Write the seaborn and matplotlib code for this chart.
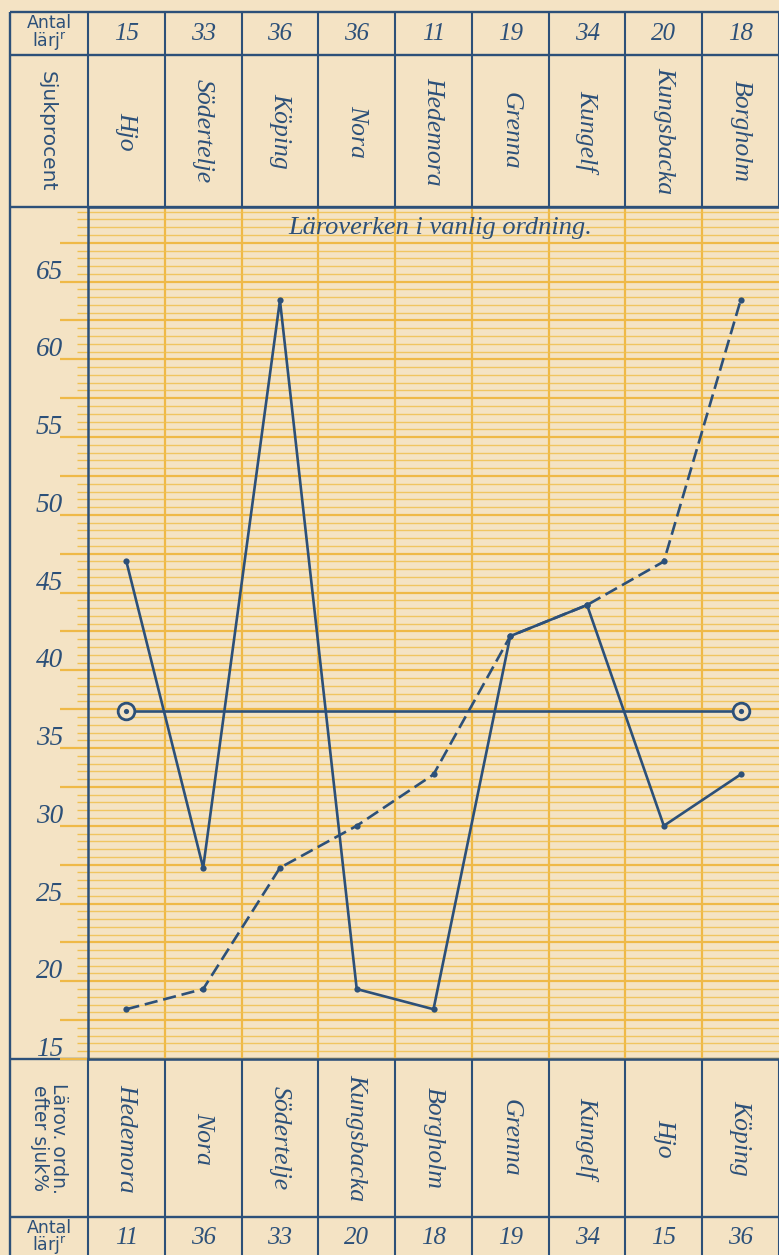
import numpy as np
import pandas as pd
import matplotlib
matplotlib.use('Agg')
import matplotlib.pyplot as plt
import matplotlib.transforms as mtransforms
from matplotlib.ticker import MultipleLocator
import seaborn as sns

# Läroverken i vanlig ordning (översta raderna)
schools = ["Hjo", "Södertelje", "Köping", "Nora", "Hedemora",
           "Grenna", "Kungelf", "Kungsbacka", "Borgholm"]
pupils = [15, 33, 36, 36, 11, 19, 34, 20, 18]
sick_pct = [47.0, 27.3, 63.8, 19.5, 18.2, 42.2, 44.2, 30.0, 33.3]

# Läroverken ordnade efter sjukprocent (nedersta raderna)
sorted_schools = ["Hedemora", "Nora", "Södertelje", "Kungsbacka", "Borgholm",
                  "Grenna", "Kungelf", "Hjo", "Köping"]
sorted_pupils = [11, 36, 33, 20, 18, 19, 34, 15, 36]
sorted_pct = [18.2, 19.5, 27.3, 30.0, 33.3, 42.2, 44.2, 47.0, 63.8]

mean_pct = 37.4
y_labels = [15, 20, 25, 30, 35, 40, 45, 50, 55, 60, 65]

PAPER = '#f4e3c4'
BLUE = '#2c5079'
ORANGE = '#efb947'
ORANGE_LIGHT = '#f0c050'
SERIF = ['Liberation Serif', 'DejaVu Serif']
SANS = ['DejaVu Sans']

sns.set_theme(style='white')
plt.rcParams['font.family'] = SANS

W, H = 779, 1255
fig = plt.figure(figsize=(W / 100, H / 100), dpi=100, facecolor=PAPER)


def fx(px):
    return px / W


def fy(py):
    return 1 - py / H


# layout in pixels of the original sheet
LEFT, X0, X1 = 10, 88, 779
Y_TOP, Y_HEAD, Y_PLOT0, Y_PLOT1, Y_FOOT = 12, 55, 207, 1059, 1217

n = len(schools)
col_w = (X1 - X0) / n
edges = X0 + col_w * np.arange(n + 1)
centers = X0 + col_w * (np.arange(n) + 0.5)

# tabell-ramen (bakgrund)
frame = fig.add_axes([0, 0, 1, 1], zorder=0)
frame.set_xlim(0, W)
frame.set_ylim(H, 0)
frame.axis('off')
frame.hlines([Y_TOP, Y_HEAD, Y_PLOT0, Y_PLOT1, Y_FOOT], LEFT, W, color=BLUE, lw=1.7)
frame.vlines(LEFT, Y_TOP, H, color=BLUE, lw=1.7)
frame.vlines(edges, Y_TOP, Y_PLOT0, color=BLUE, lw=1.5)
frame.vlines(edges, Y_PLOT1, H, color=BLUE, lw=1.5)

# rubriker i vänsterkolumnen
frame.text((LEFT + X0) / 2, (Y_TOP + Y_HEAD) / 2, "Antal\nlärj$^{\\mathregular{r}}$",
           ha='center', va='center', fontsize=12.5, color=BLUE, linespacing=0.85)
frame.text((LEFT + X0) / 2 - 2, (Y_HEAD + Y_PLOT0) / 2, "Sjukprocent",
           ha='center', va='center', rotation=270, fontsize=14.5, color=BLUE)
frame.text((LEFT + X0) / 2, (Y_PLOT1 + Y_FOOT) / 2, "Lärov. ordn.\nefter sjuk%",
           ha='center', va='center', rotation=270, fontsize=13.5, color=BLUE,
           linespacing=0.95)
frame.text((LEFT + X0) / 2, (Y_FOOT + H) / 2 + 2, "Antal\nlärj$^{\\mathregular{r}}$",
           ha='center', va='center', fontsize=12.5, color=BLUE, linespacing=0.85)

# övre tabellen: antal lärjungar och läroverk
for i in range(n):
    frame.text(centers[i], (Y_TOP + Y_HEAD) / 2 + 1, str(pupils[i]), ha='center', va='center',
               fontsize=18, style='italic', family=SERIF, color=BLUE)
    frame.text(centers[i], (Y_HEAD + Y_PLOT0) / 2, schools[i], ha='center', va='center',
               rotation=270, fontsize=18.5, style='italic', family=SERIF, color=BLUE)
    # nedre tabellen
    frame.text(centers[i], (Y_PLOT1 + Y_FOOT) / 2, sorted_schools[i], ha='center', va='center',
               rotation=270, fontsize=18.5, style='italic', family=SERIF, color=BLUE)
    frame.text(centers[i], (Y_FOOT + H) / 2 + 2, str(sorted_pupils[i]), ha='center', va='center',
               fontsize=18, style='italic', family=SERIF, color=BLUE)

# diagrammet
ax = fig.add_axes([fx(X0), fy(Y_PLOT1), fx(X1) - fx(X0), fy(Y_PLOT0) - fy(Y_PLOT1)], zorder=1)
ax.set_facecolor('none')

pos = np.arange(n)
df_top = pd.DataFrame({'pos': pos, 'pct': sick_pct})
df_sorted = pd.DataFrame({'pos': pos, 'pct': sorted_pct})

sns.lineplot(data=df_top, x='pos', y='pct', ax=ax, color=BLUE, lw=1.9, sort=False,
             marker='o', markersize=4.5, markeredgewidth=0, zorder=5)
sns.lineplot(data=df_sorted, x='pos', y='pct', ax=ax, color=BLUE, lw=1.9, sort=False,
             linestyle=(0, (5, 2.2)), marker='o', markersize=4.5, markeredgewidth=0, zorder=5)

# medelvärdet med ringar i ändarna
df_mean = pd.DataFrame({'pos': [pos[0], pos[-1]], 'pct': [mean_pct, mean_pct]})
sns.lineplot(data=df_mean, x='pos', y='pct', ax=ax, color=BLUE, lw=1.9,
             marker='o', markersize=12, markerfacecolor=PAPER, markeredgecolor=BLUE,
             markeredgewidth=2, zorder=6)
sns.scatterplot(data=df_mean, x='pos', y='pct', ax=ax, color=BLUE, s=14, linewidth=0, zorder=7)

ax.set_xlim(-0.5, n - 0.5)
ax.set_ylim(15, 69.8)
ax.set_xlabel('')
ax.set_ylabel('')
ax.set_xticks(np.arange(0.5, n - 1))
ax.yaxis.set_major_locator(MultipleLocator(2.5))
ax.yaxis.set_minor_locator(MultipleLocator(0.5))
ax.tick_params(axis='x', length=0, labelbottom=False)
ax.tick_params(axis='y', which='major', left=True, direction='out', length=20, width=1.6,
               color=ORANGE, labelleft=False)
ax.tick_params(axis='y', which='minor', left=True, direction='out', length=8, width=1.0,
               color=ORANGE_LIGHT)
ax.grid(which='major', axis='both', color=ORANGE, lw=1.6)
ax.grid(which='minor', axis='y', color=ORANGE_LIGHT, lw=1.0, alpha=0.85)
ax.set_axisbelow(True)

for side in ['left', 'top', 'bottom']:
    ax.spines[side].set_color(BLUE)
    ax.spines[side].set_linewidth(1.8)
ax.spines['right'].set_visible(False)

# y-etiketter strax ovanför linjerna
trans = mtransforms.blended_transform_factory(fig.transFigure, ax.transData)
trans = mtransforms.offset_copy(trans, fig=fig, y=3, units='dots')
for v in y_labels:
    ax.text(fx(63), v, str(v), transform=trans, ha='right', va='baseline', fontsize=19.5,
            style='italic', family=SERIF, color=BLUE, clip_on=False)

ax.text(0.51, 0.975, "Läroverken i vanlig ordning.", transform=ax.transAxes,
        ha='center', va='center', fontsize=19, style='italic', family=SERIF, color=BLUE)

fig.savefig('out.png', dpi=100, facecolor=PAPER)
